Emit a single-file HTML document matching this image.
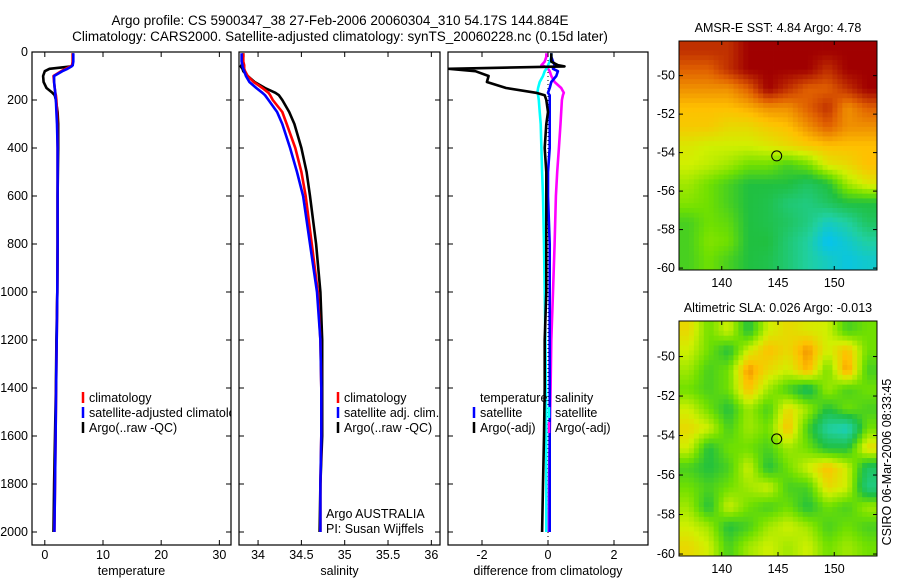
<!DOCTYPE html>
<html><head><meta charset="utf-8"><style>
html,body{margin:0;padding:0;background:#fff;}
svg{display:block;font-family:"Liberation Sans",sans-serif;}
</style></head><body>
<svg id="chart" width="900" height="580" viewBox="0 0 900 580">
<defs><clipPath id="p1clip"><rect x="32" y="52" width="199" height="493"/></clipPath></defs>
<text x="340" y="25" text-anchor="middle" font-size="13.5">Argo profile: CS 5900347_38 27-Feb-2006 20060304_310 54.17S 144.884E</text>
<text x="340" y="41" text-anchor="middle" font-size="13.5">Climatology: CARS2000. Satellite-adjusted climatology: synTS_20060228.nc (0.15d later)</text>
<g id="g"></g>
<text transform="translate(891,462) rotate(-90)" text-anchor="middle" font-size="12.5">CSIRO 06-Mar-2006 08:33:45</text>
</svg>
<script>
// ---- data ----
const depths = [5,20,40,55,60,70,80,100,125,150,170,180,200,250,300,400,500,600,800,1000,1200,1400,1600,1800,2000];
const tempClim = [4.8,4.8,4.8,4.7,4.4,3.6,2.8,1.5,1.6,1.7,1.8,1.9,2.0,2.1,2.15,2.2,2.2,2.2,2.2,2.15,2.05,1.95,1.85,1.75,1.65];
const tempSat  = [4.9,4.9,4.9,4.8,4.6,3.9,3.0,1.6,1.6,1.7,1.8,1.8,1.9,2.0,2.1,2.2,2.2,2.2,2.2,2.15,2.05,1.95,1.85,1.75,1.65];
const tempArgo = [4.8,4.8,4.8,4.8,4.5,0.8,0.0,-0.3,-0.2,0.3,1.3,1.7,1.9,2.2,2.3,2.3,2.25,2.2,2.2,2.15,2.0,1.9,1.75,1.6,1.5];
const salClim = [33.83,33.83,33.83,33.84,33.84,33.84,33.85,33.88,33.95,34.05,34.12,34.14,34.17,34.28,34.33,34.43,34.5,34.55,34.62,34.69,34.72,34.73,34.73,34.72,34.72];
const salSat  = [33.81,33.81,33.81,33.82,33.82,33.83,33.84,33.86,33.9,33.98,34.05,34.08,34.12,34.22,34.28,34.37,34.45,34.52,34.6,34.68,34.72,34.73,34.73,34.72,34.72];
const salArgo = [33.83,33.83,33.82,33.81,33.8,33.82,33.83,33.88,33.96,34.08,34.2,34.24,34.28,34.36,34.42,34.5,34.56,34.6,34.67,34.72,34.74,34.74,34.74,34.72,34.71];
const dTempSat = [0.1,0.1,0.15,0.2,0.2,0.15,0.3,0.25,0.1,0.05,0.0,0.05,0.05,0.05,0.05,0.05,0.0,0.0,0.05,0.05,0.05,0.05,0.05,0.05,0.05];
const dTempArgo = [0.1,0.1,0.1,0.3,0.5,-3.0,-2.2,-1.8,-1.85,-1.27,-0.36,-0.1,-0.05,0.0,-0.05,-0.1,-0.05,-0.05,-0.05,-0.05,-0.1,-0.1,-0.12,-0.15,-0.18];
const dSalSat = [0.1,0.1,0.05,0.0,0.0,-0.05,-0.1,-0.15,-0.25,-0.3,-0.32,-0.3,-0.28,-0.25,-0.22,-0.2,-0.18,-0.15,-0.12,-0.1,-0.08,-0.06,-0.05,-0.05,-0.05];
const dSalArgo = [-0.05,-0.05,-0.1,-0.2,-0.1,0.0,0.05,0.1,0.2,0.4,0.48,0.45,0.42,0.4,0.38,0.33,0.28,0.24,0.2,0.15,0.1,0.08,0.05,0.03,0.02];
const depthTicks = [0,200,400,600,800,1000,1200,1400,1600,1800,2000];
const tempTicks = [0,10,20,30];
const salTicks = [34,34.5,35,35.5,36];
const diffTicks = [-2,0,2];
const lonTicks = [140,145,150];
const latTicks = [-50,-52,-54,-56,-58,-60];
const sstGrid = [
[.95,.95,.95,1,1,1,1,1,1,1],
[.9,.9,.95,1,1,1,1,.95,1,1],
[.85,.85,.85,.9,1,.95,.9,.9,.95,1],
[.8,.8,.8,.82,.85,.85,.9,.95,.85,.9],
[.78,.78,.75,.75,.78,.8,.85,.9,.85,.85],
[.72,.7,.7,.7,.72,.75,.78,.8,.8,.8],
[.7,.68,.65,.6,.6,.55,.6,.72,.75,.8],
[.65,.6,.55,.5,.5,.5,.45,.5,.65,.72],
[.62,.6,.55,.5,.48,.42,.4,.45,.5,.5],
[.55,.6,.58,.5,.48,.45,.4,.3,.35,.45],
[.55,.62,.6,.5,.5,.42,.35,.22,.28,.35],
[.55,.6,.55,.5,.48,.42,.35,.3,.25,.28]];
const slaGrid = [
[.75,.6,.7,.5,.7,.75,.72,.7,.55,.6],
[.7,.6,.5,.7,.8,.75,.85,.7,.8,.6],
[.65,.55,.6,.85,.75,.7,.82,.6,.85,.55],
[.6,.55,.6,.8,.65,.55,.45,.65,.55,.6],
[.7,.6,.5,.65,.55,.75,.65,.5,.6,.55],
[.75,.7,.55,.65,.6,.8,.55,.35,.3,.6],
[.7,.5,.6,.6,.55,.65,.6,.5,.5,.75],
[.55,.5,.55,.7,.5,.6,.7,.8,.7,.45],
[.6,.55,.6,.65,.7,.55,.55,.75,.7,.4],
[.65,.5,.7,.6,.55,.6,.5,.6,.55,.65],
[.7,.65,.5,.55,.65,.7,.65,.55,.6,.55],
[.75,.7,.55,.65,.7,.65,.7,.6,.65,.6]];
const floatLon = 144.884, floatLat = -54.17;

const NS="http://www.w3.org/2000/svg", G=document.getElementById('g');
function mk(t,a,p){const e=document.createElementNS(NS,t);for(const k in a)e.setAttribute(k,a[k]);(p||G).appendChild(e);return e;}
const PT=52, PB=545, yD=d=>52+d*0.24;
function lin(d0,d1,r0,r1){return v=>r0+(v-d0)/(d1-d0)*(r1-r0);}
function panel(name,x0,x1,xs,ticks,fmt,label,showY){
  const g=mk('g',{});
  
  
  const r=mk('rect',{x:x0,y:PT,width:x1-x0,height:PB-PT,fill:'none',stroke:'#000','stroke-width':1.2},g);
  
  
  ticks.forEach(t=>{const x=xs(t);
    mk('line',{x1:x,x2:x,y1:PB,y2:PB-5,stroke:'#000'},g);mk('line',{x1:x,x2:x,y1:PT,y2:PT+5,stroke:'#000'},g);
    const tx=mk('text',{x:x,y:PB+14,'text-anchor':'middle','font-size':12.5},g);tx.textContent=fmt(t);
    
    });
  depthTicks.forEach(d=>{const y=yD(d);
    mk('line',{x1:x0,x2:x0+5,y1:y,y2:y,stroke:'#000'},g);mk('line',{x1:x1,x2:x1-5,y1:y,y2:y,stroke:'#000'},g);
    if(showY){const tx=mk('text',{x:28,y:y+4,'text-anchor':'end','font-size':12.5},g);tx.textContent=d;
      
      }});
  const lb=mk('text',{x:(x0+x1)/2,y:575,'text-anchor':'middle','font-size':12.5},g);lb.textContent=label;
  
  
  return g;
}
function series(name,vals,xs,color,x0,x1){
  const pts=vals.map((v,i)=>{let x=xs(v);x=Math.max(x0+1,Math.min(x1-1,x));return x.toFixed(1)+','+yD(depths[i]).toFixed(1);}).join(' ');
  const p=mk('polyline',{points:pts,fill:'none',stroke:color,'stroke-width':2.6,'stroke-linejoin':'round'});
  
  
}
function legendEntry(x,y,color,label,name,parent){
  if(color){const l=mk('line',{x1:x,x2:x,y1:y-10,y2:y+1,stroke:color,'stroke-width':2.5},parent);
    
    }
  const t=mk('text',{x:x+6,y:y,'font-size':12.5},parent);t.textContent=label;
  
  
}
// panel 1
const xT=lin(-2.2,32,32,231);
panel('temperature-panel',32,231,xT,tempTicks,t=>t,'temperature',true);
series('temp-argo-line',tempArgo,xT,'#000',32,231);
series('temp-clim-line',tempClim,xT,'#f00',32,231);
series('temp-sat-line',tempSat,xT,'#00f',32,231);
const lg1=mk('g',{'clip-path':'url(#p1clip)'});


legendEntry(83,402,'#f00','climatology','legend-climatology',lg1);
legendEntry(83,417,'#00f','satellite-adjusted climatology','legend-satellite',lg1);
legendEntry(83,432,'#000','Argo(..raw -QC)','legend-argo',lg1);
// panel 2
const xS=lin(33.78,36.1,239,440);
panel('salinity-panel',239,440,xS,salTicks,t=>t,'salinity',false);
series('sal-argo-line',salArgo,xS,'#000',239,440);
series('sal-clim-line',salClim,xS,'#f00',239,440);
series('sal-sat-line',salSat,xS,'#00f',239,440);
legendEntry(338,402,'#f00','climatology','legend-sal-climatology');
legendEntry(338,417,'#00f','satellite adj. clim.','legend-sal-satellite');
legendEntry(338,432,'#000','Argo(..raw -QC)','legend-sal-argo');
legendEntry(320,518,null,'Argo AUSTRALIA','float-owner-label');
legendEntry(320,533,null,'PI: Susan Wijffels','float-pi-label');
// panel 3
const xDf=lin(-3.03,3.03,448,648);
panel('difference-panel',448,648,xDf,diffTicks,t=>t,'difference from climatology',false);
const z=mk('line',{x1:xDf(0),x2:xDf(0),y1:PT,y2:PB,stroke:'#000','stroke-dasharray':'1,3'});


series('diff-sal-argo-line',dSalArgo,xDf,'#f0f',448,648);
series('diff-sal-sat-line',dSalSat,xDf,'#0ff',448,648);
series('diff-temp-sat-line',dTempSat,xDf,'#00f',448,648);
series('diff-temp-argo-line',dTempArgo,xDf,'#000',448,648);
legendEntry(474,402,null,'temperature','legend-temperature-heading');
legendEntry(549,402,null,'salinity','legend-salinity-heading');
legendEntry(474,417,'#00f','satellite','legend-temp-satellite');
legendEntry(474,432,'#000','Argo(-adj)','legend-temp-argo');
legendEntry(549,417,'#0ff','satellite','legend-sal-satellite-diff');
legendEntry(549,432,'#f0f','Argo(-adj)','legend-sal-argo-diff');

// maps
const stops=[[0,[0,96,255]],[.2,[0,192,255]],[.35,[32,208,160]],[.5,[32,192,64]],[.6,[112,224,0]],[.7,[208,240,0]],[.8,[255,192,0]],[.9,[224,96,0]],[1,[160,0,0]]];
function cmap(v){for(let i=1;i<stops.length;i++){if(v<=stops[i][0]){const a=stops[i-1],b=stops[i],f=(v-a[0])/(b[0]-a[0]);return 'rgb('+a[1].map((c,k)=>Math.round(c+(b[1][k]-c)*f)).join(',')+')';}}return 'rgb(160,0,0)';}
function sample(grid,fr,fc){
  const R=grid.length,C=grid[0].length;
  fr=Math.max(0,Math.min(R-1,fr));fc=Math.max(0,Math.min(C-1,fc));
  const r0=Math.floor(fr),c0=Math.floor(fc),r1=Math.min(R-1,r0+1),c1=Math.min(C-1,c0+1),a=fr-r0,b=fc-c0;
  return grid[r0][c0]*(1-a)*(1-b)+grid[r0][c1]*(1-a)*b+grid[r1][c0]*a*(1-b)+grid[r1][c1]*a*b;
}
function map(name,title,grid,x0,y0,x1,y1,latTop,latBot){
  const g=mk('g',{});
  
  
  const rows=grid.length,cols=grid[0].length,SUB=4;
  const NR=rows*SUB,NC=cols*SUB,cw=(x1-x0)/NC,ch=(y1-y0)/NR;
  for(let r=0;r<NR;r++)for(let c=0;c<NC;c++){
    const v=sample(grid,(r+0.5)/SUB-0.5,(c+0.5)/SUB-0.5);
    const cell=mk('rect',{x:(x0+c*cw).toFixed(2),y:(y0+r*ch).toFixed(2),width:(cw+0.4).toFixed(2),height:(ch+0.4).toFixed(2),fill:cmap(v)},g);
    
    
  }
  const fr=mk('rect',{x:x0,y:y0,width:x1-x0,height:y1-y0,fill:'none',stroke:'#000'},g);
  
  
  const lx=lin(136.2,153.8,x0,x1), ly=lin(latTop,latBot,y0,y1);
  lonTicks.forEach(t=>{const x=lx(t);mk('line',{x1:x,x2:x,y1:y1,y2:y1-4,stroke:'#000'},g);mk('line',{x1:x,x2:x,y1:y0,y2:y0+4,stroke:'#000'},g);
    const tx=mk('text',{x:x,y:y1+17,'text-anchor':'middle','font-size':12.5},g);tx.textContent=t;
    
    });
  latTicks.forEach(t=>{const y=ly(t);mk('line',{x1:x0,x2:x0+4,y1:y,y2:y,stroke:'#000'},g);mk('line',{x1:x1,x2:x1-4,y1:y,y2:y,stroke:'#000'},g);
    const tx=mk('text',{x:x0-4,y:y+4,'text-anchor':'end','font-size':12.5},g);tx.textContent=t;
    
    });
  const c=mk('circle',{cx:lx(floatLon),cy:ly(floatLat),r:5,fill:'none',stroke:'#000'},g);
  
  
  const tt=mk('text',{x:(x0+x1)/2,y:y0-9,'text-anchor':'middle','font-size':12.5},g);tt.textContent=title;
  
  
}
map('sst-map','AMSR-E SST: 4.84 Argo: 4.78',sstGrid,679,41,877,270,-48.2,-60.1);
map('sla-map','Altimetric SLA: 0.026 Argo: -0.013',slaGrid,679,321,877,556,-48.2,-60.1);
</script>
</body></html>
